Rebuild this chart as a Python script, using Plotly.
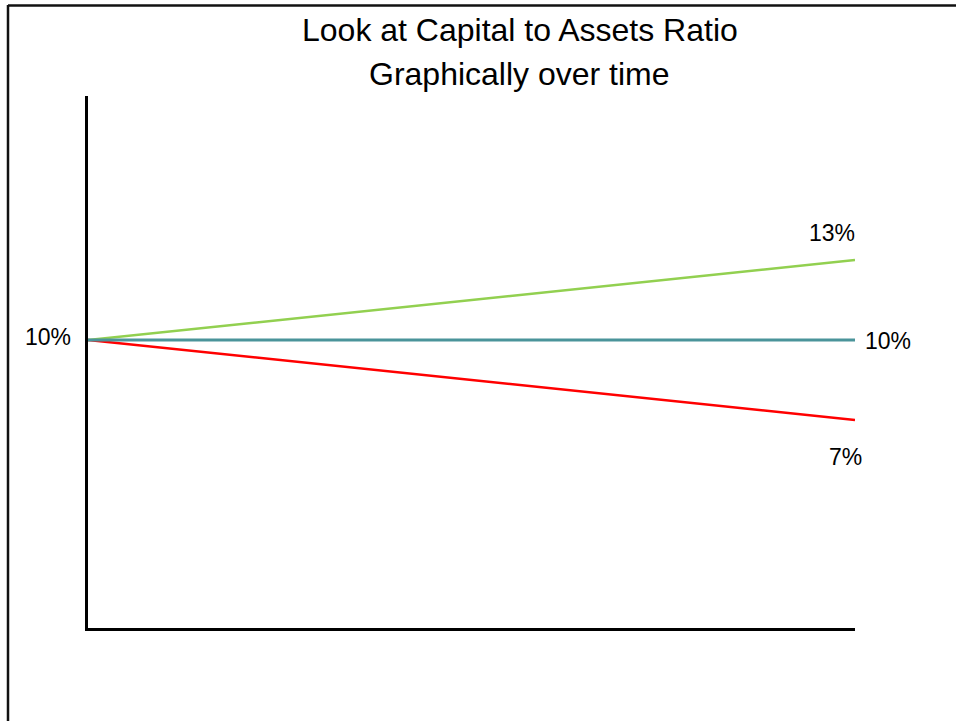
import plotly.graph_objects as go

# Data
periods = [0, 1]
green_vals = [10, 13]
teal_vals = [10, 10]
red_vals = [10, 7]
title_line1 = "Look at Capital to Assets Ratio"
title_line2 = "Graphically over time"

FONT = "Liberation Sans, Arial, sans-serif"

fig = go.Figure()
fig.add_trace(go.Scatter(x=periods, y=green_vals, mode="lines",
                         line=dict(color="#92D050", width=2.5), cliponaxis=False))
fig.add_trace(go.Scatter(x=periods, y=red_vals, mode="lines",
                         line=dict(color="#FF0000", width=2.5), cliponaxis=False))
fig.add_trace(go.Scatter(x=periods, y=teal_vals, mode="lines",
                         line=dict(color="#4A949A", width=3), cliponaxis=False))

ann = []
ann.append(dict(x=periods[1], y=green_vals[1], text=f"{green_vals[1]}%", showarrow=False,
                xref="x", yref="y", xanchor="center", yanchor="middle",
                xshift=-23, yshift=27, font=dict(size=23, color="black", family=FONT)))
ann.append(dict(x=periods[1], y=teal_vals[1], text=f"{teal_vals[1]}%", showarrow=False,
                xref="x", yref="y", xanchor="left", yanchor="middle",
                xshift=8, yshift=-1, font=dict(size=23, color="black", family=FONT)))
ann.append(dict(x=periods[1], y=red_vals[1], text=f"{red_vals[1]}%", showarrow=False,
                xref="x", yref="y", xanchor="center", yanchor="middle",
                xshift=-10, yshift=-37, font=dict(size=23, color="black", family=FONT)))
ann.append(dict(x=periods[0], y=green_vals[0], text=f"{green_vals[0]}%", showarrow=False,
                xref="x", yref="y", xanchor="right", yanchor="middle",
                xshift=-15, yshift=3, font=dict(size=23, color="black", family=FONT)))
ann.append(dict(x=520, y=721 - 30, text=title_line1, showarrow=False,
                xref="paper", yref="paper", xanchor="center", yanchor="middle",
                font=dict(size=32, color="black", family=FONT)))
ann.append(dict(x=519, y=721 - 74, text=title_line2, showarrow=False,
                xref="paper", yref="paper", xanchor="center", yanchor="middle",
                font=dict(size=32, color="black", family=FONT)))

W, H = 956, 721
L, R, T, B = 88, 101, 96, 93
# convert pixel coordinates for title annotations into paper coords
pw, ph = W - L - R, H - T - B
for a in ann[4:]:
    a["x"] = (a["x"] - L) / pw
    a["y"] = (a["y"] - B) / ph

shapes = [
    dict(type="line", xref="paper", yref="paper",
         x0=(8 - L) / pw, x1=(W + 5 - L) / pw, y0=(H - 5.5 - B) / ph, y1=(H - 5.5 - B) / ph,
         line=dict(color="#111111", width=2.5)),
    dict(type="line", xref="paper", yref="paper",
         x0=(8 - L) / pw, x1=(8 - L) / pw, y0=(H - 5 - B) / ph, y1=(-5 - B) / ph,
         line=dict(color="#111111", width=2.5)),
]

fig.update_layout(
    width=W, height=H, autosize=False,
    margin=dict(l=L, r=R, t=T, b=B, pad=0),
    paper_bgcolor="white", plot_bgcolor="white",
    showlegend=False,
    annotations=ann, shapes=shapes,
    xaxis=dict(range=[0, 1], showgrid=False, zeroline=False, showticklabels=False,
               ticks="", showline=True, linecolor="black", linewidth=3),
    yaxis=dict(range=[-0.8, 19.15], showgrid=False, zeroline=False, showticklabels=False,
               ticks="", showline=True, linecolor="black", linewidth=3),
    font=dict(family=FONT),
)

fig.write_html("out.html")
